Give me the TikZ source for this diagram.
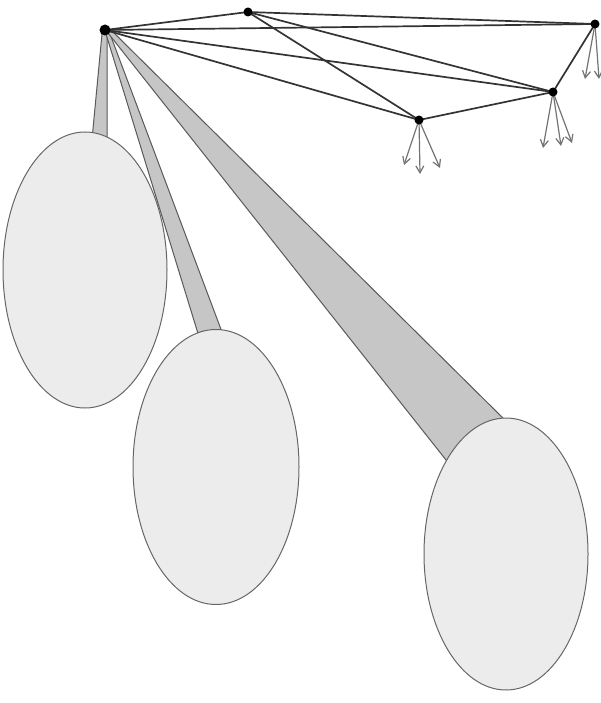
\documentclass[tikz,border=0pt]{standalone}
\usetikzlibrary{arrows.meta,shapes.geometric}
\begin{document}
\begin{tikzpicture}[x=1pt,y=-1pt,
  dot/.style={circle,fill=black,inner sep=0pt,minimum size=#1},
  dot/.default=8pt,
  edge/.style={draw=black!80,line width=1.7pt},
  outarrow/.style={draw=black!55,line width=1.2pt,-{Straight Barb[length=7pt,width=8pt]}},
  stem/.style={fill=gray!45,draw=black!65,line width=1pt},
  blob/.style={ellipse,draw=black!60,fill=gray!15,line width=1pt,inner sep=0pt}]
\useasboundingbox (0,0) rectangle (600,703);
% hub nodes
\coordinate (A) at (105,30);
\coordinate (B) at (248,12);
\coordinate (C) at (595,24);
\coordinate (D) at (553,92);
\coordinate (E) at (419,120);
% stems (behind ellipses)
\path[stem] (102,34) -- (107,34) -- (107,150) -- (91,150) -- cycle;
\path[stem] (106,34) -- (110,34) -- (225,340) -- (200,340) -- cycle;
\path[stem] (108,33) -- (112,31) -- (510,425) -- (450,465) -- cycle;
% ellipses
\node[blob,minimum width=164pt,minimum height=276pt] (L1) at (85,270) {};
\node[blob,minimum width=166pt,minimum height=275pt] (L2) at (216,467) {};
\node[blob,minimum width=164pt,minimum height=272pt] (L3) at (506,554) {};
% edges
\draw[edge] (A) -- (B);
\draw[edge] (A) -- (C);
\draw[edge] (A) -- (D);
\draw[edge] (A) -- (E);
\draw[edge] (B) -- (C);
\draw[edge] (B) -- (D);
\draw[edge] (B) -- (E);
\draw[edge] (E) -- (D);
\draw[edge] (D) -- (C);
% outgoing arrows
\coordinate (e1) at (404,165);
\coordinate (e2) at (420,174);
\coordinate (e3) at (440,168);
\coordinate (d1) at (543,148);
\coordinate (d2) at (561,146);
\coordinate (d3) at (572,143);
\coordinate (c1) at (585,79);
\coordinate (c2) at (599,79);
\draw[outarrow] (E) -- (e1);
\draw[outarrow] (E) -- (e2);
\draw[outarrow] (E) -- (e3);
\draw[outarrow] (D) -- (d1);
\draw[outarrow] (D) -- (d2);
\draw[outarrow] (D) -- (d3);
\draw[outarrow] (C) -- (c1);
\draw[outarrow] (C) -- (c2);
% dots
\node[dot=11pt] (nA) at (A) {};
\node[dot=9pt] (nB) at (B) {};
\node[dot=9pt] (nC) at (C) {};
\node[dot=9pt] (nD) at (D) {};
\node[dot=9pt] (nE) at (E) {};
\end{tikzpicture}
\end{document}
